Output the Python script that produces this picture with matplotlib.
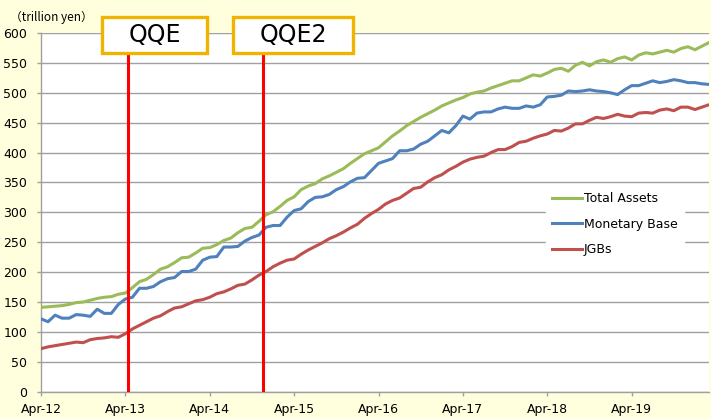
import matplotlib
matplotlib.use("Agg")
import matplotlib.pyplot as plt
from matplotlib.patches import Rectangle
import numpy as np

# ---- data (trillion yen, monthly from Apr-12) ----
total_assets = [141, 142, 143, 144, 146, 149, 150, 153, 156, 158, 159, 163,
                165, 174, 184, 188, 196, 205, 209, 216, 224, 225, 232, 240,
                241, 246, 253, 257, 266, 273, 275, 285, 296, 301, 310, 320,
                326, 338, 344, 348, 356, 361, 367, 373, 382, 390, 398, 403,
                408, 418, 428, 436, 445, 452, 459, 465, 471, 478, 483, 488,
                492, 498, 501, 503, 508, 512, 516, 520, 520, 525, 530, 528,
                533, 539, 541, 536, 546, 551, 545, 552, 555, 551, 557, 560,
                555, 563, 567, 565, 568, 571, 568, 574, 577, 572, 578, 584]
monetary_base = [122, 117, 128, 123, 123, 129, 128, 126, 138, 131, 131, 146,
                 155, 158, 173, 173, 176, 184, 189, 191, 201, 201, 205, 220,
                 225, 226, 242, 242, 243, 252, 258, 262, 275, 278, 278, 292,
                 303, 306, 318, 325, 326, 330, 338, 343, 351, 357, 358, 370,
                 382, 386, 390, 403, 403, 406, 414, 419, 428, 437, 433, 445,
                 461, 456, 466, 468, 468, 473, 476, 474, 474, 478, 476, 480,
                 493, 494, 496, 503, 502, 503, 505, 503, 502, 500, 497, 505,
                 512, 512, 516, 520, 517, 519, 522, 520, 517, 517, 515, 514]
jgbs = [72, 75, 77, 79, 81, 83, 82, 87, 89, 90, 92, 91,
        97, 105, 111, 117, 123, 127, 134, 140, 142, 147, 152, 154,
        158, 164, 167, 172, 178, 180, 187, 195, 201, 209, 215, 220,
        222, 230, 237, 243, 249, 256, 261, 267, 274, 280, 290, 298,
        305, 314, 320, 324, 332, 340, 342, 351, 358, 363, 371, 377,
        384, 389, 392, 394, 400, 405, 405, 410, 417, 419, 424, 428,
        431, 437, 436, 441, 448, 448, 454, 459, 457, 460, 464, 461,
        460, 466, 467, 466, 471, 473, 470, 476, 476, 472, 476, 480]
tick_labels = ["Apr-12", "Apr-13", "Apr-14", "Apr-15",
               "Apr-16", "Apr-17", "Apr-18", "Apr-19"]
event_names = ["QQE", "QQE2"]
event_positions = [12.4, 31.6]   # months after Apr-12

W, H = 711, 419
fig = plt.figure(figsize=(W / 100, H / 100), dpi=100, facecolor="#FFFFDD")
ax = fig.add_axes([41 / W, 1 - 391.7 / H, (709 - 41) / W, (391.7 - 33) / H])
ax.set_facecolor("white")

x = np.arange(len(total_assets))
ax.plot(x, total_assets, color="#9BBB59", lw=2.2, label="Total Assets", zorder=3)
ax.plot(x, monetary_base, color="#4F81BD", lw=2.2, label="Monetary Base", zorder=3)
ax.plot(x, jgbs, color="#C0504D", lw=2.2, label="JGBs", zorder=3)

for pos in event_positions:
    ax.axvline(pos, color="#FF0000", lw=2.2, zorder=4)

ax.set_xlim(0, len(total_assets) - 1)
ax.set_ylim(0, 600)
ax.set_yticks(np.arange(0, 601, 50))
ax.set_xticks(np.arange(0, 12 * len(tick_labels), 12))
ax.set_xticklabels(tick_labels)
ax.grid(axis="y", color="#A0A0A0", lw=1.0, zorder=1)
ax.set_axisbelow(True)
for s in ["top", "right"]:
    ax.spines[s].set_visible(False)
for s in ["left", "bottom"]:
    ax.spines[s].set_color("#A0A0A0")
    ax.spines[s].set_linewidth(1.0)
ax.tick_params(axis="both", colors="#A0A0A0", length=3, width=1.0,
               labelcolor="black", labelsize=9)
ax.tick_params(axis="y", pad=7)
ax.tick_params(axis="x", pad=5)

leg = ax.legend(loc="upper left", bbox_to_anchor=(546 / W, 1 - 186 / H),
                bbox_transform=fig.transFigure, frameon=True, fancybox=False,
                edgecolor="white", facecolor="white", framealpha=1.0,
                fontsize=9, handlelength=2.4, handletextpad=0.1,
                labelspacing=1.0, borderpad=0.5, borderaxespad=0)
leg.set_zorder(5)

fig.text(10 / W, 1 - 17 / H, "（trillion yen）", fontsize=8.5,
         family=["Noto Sans CJK JP", "DejaVu Sans"], va="center", ha="left")

boxes = [(102, 17, 207, 53), (233, 17, 353, 53)]
for name, (x0, y0, x1, y1) in zip(event_names, boxes):
    rect = Rectangle((x0 / W, 1 - y1 / H), (x1 - x0) / W, (y1 - y0) / H,
                     transform=fig.transFigure, facecolor="white",
                     edgecolor="#F0B400", lw=2.4, zorder=10)
    fig.add_artist(rect)
    fig.text((x0 + x1) / 2 / W, 1 - (y0 + y1) / 2 / H, name, fontsize=17,
             ha="center", va="center", zorder=11)

fig.savefig("out.png", dpi=100, facecolor=fig.get_facecolor())
